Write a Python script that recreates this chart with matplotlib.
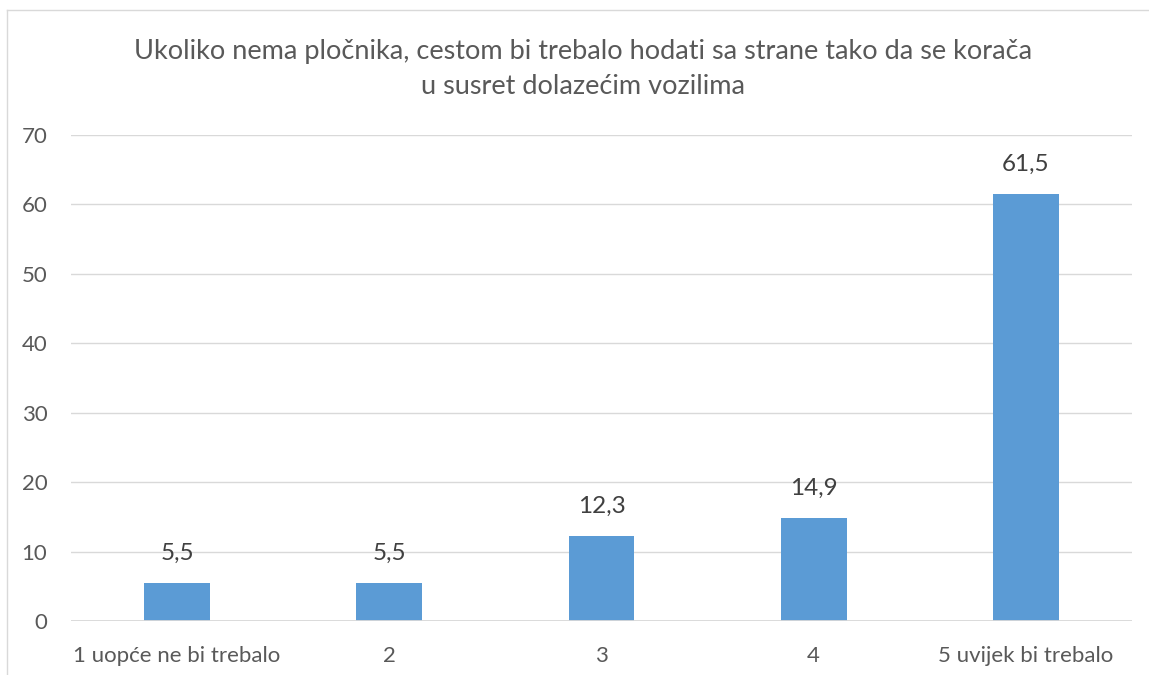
import matplotlib
matplotlib.use("Agg")
import matplotlib.pyplot as plt
from matplotlib.lines import Line2D

categories = ["1 uopće ne bi trebalo", "2", "3", "4", "5 uvijek bi trebalo"]
values = [5.5, 5.5, 12.3, 14.9, 61.5]
yticks = [0, 10, 20, 30, 40, 50, 60, 70]
title = ("Ukoliko nema pločnika, cestom bi trebalo hodati sa strane tako da se korača\n"
         "u susret dolazećim vozilima")

plt.rcParams["font.family"] = ["Lato", "DejaVu Sans"]

W, H = 1149, 675
fig = plt.figure(figsize=(W / 100, H / 100), dpi=100)
ax = fig.add_axes([71 / W, 1 - 621 / H, (1132 - 71) / W, (621 - 135) / H])

x = list(range(len(categories)))
ax.bar(x, values, width=0.31, color="#5B9BD5", zorder=3)
for xi, v in zip(x, values):
    ax.text(xi, v + 2.7, f"{v:.1f}".replace(".", ","), ha="center", va="bottom",
            fontsize=17.5, color="#404040")

ax.set_xlim(-0.5, len(categories) - 0.5)
ax.set_ylim(0, 70)
ax.set_yticks(yticks)
ax.set_xticks(x)
ax.set_xticklabels(categories)
ax.tick_params(axis="both", length=0, labelsize=16, colors="#595959")
ax.tick_params(axis="y", pad=17)
ax.tick_params(axis="x", pad=18)
ax.grid(axis="y", color="#D9D9D9", linewidth=1, zorder=0)
for s in ax.spines.values():
    s.set_visible(False)
ax.axhline(0, color="#D9D9D9", linewidth=1.3, zorder=4)

fig.text(583 / W, 1 - 69 / H, title, ha="center", va="center", fontsize=19.5,
         color="#595959", linespacing=1.5)

# chart frame (cropped on right and bottom)
fig.add_artist(Line2D([7 / W, 7 / W], [0, 1 - 10 / H], transform=fig.transFigure,
                      color="#D9D9D9", linewidth=1))
fig.add_artist(Line2D([7 / W, 1], [1 - 10 / H, 1 - 10 / H], transform=fig.transFigure,
                      color="#D9D9D9", linewidth=1))

fig.savefig("out.png", dpi=100)
